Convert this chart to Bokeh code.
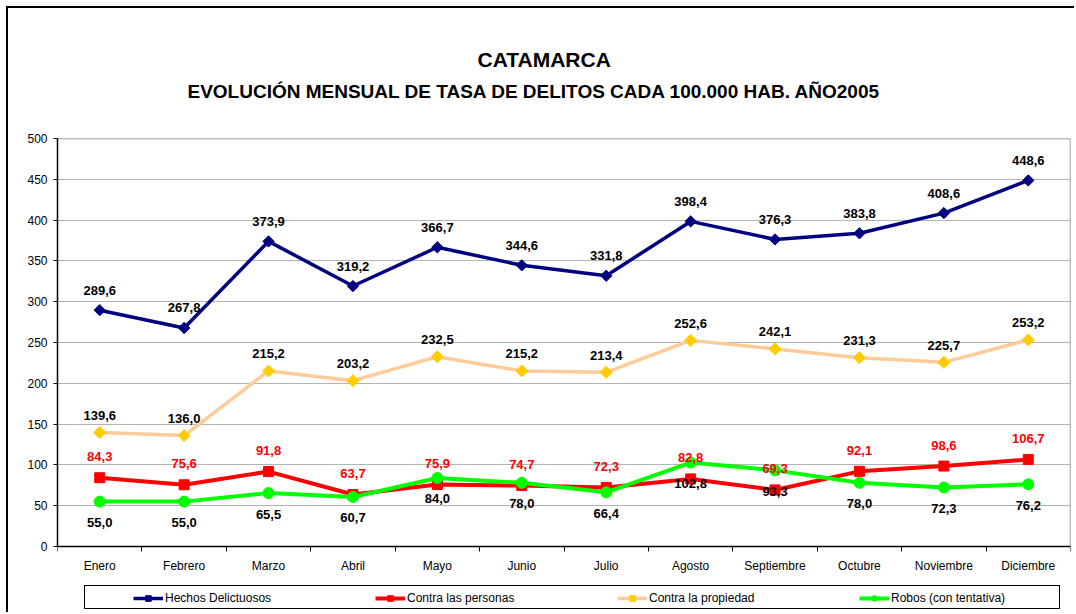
import math
from bokeh.plotting import figure
from bokeh.models import (Range1d, FixedTicker, Legend, LegendItem, Title,
                          ColumnDataSource)
from bokeh.embed import file_html
from bokeh.resources import INLINE
from bokeh.core.properties import value

# ---------------- data ----------------
months = ["Enero", "Febrero", "Marzo", "Abril", "Mayo", "Junio", "Julio",
          "Agosto", "Septiembre", "Octubre", "Noviembre", "Diciembre"]
hechos = [289.6, 267.8, 373.9, 319.2, 366.7, 344.6, 331.8, 398.4, 376.3, 383.8, 408.6, 448.6]
personas = [84.3, 75.6, 91.8, 63.7, 75.9, 74.7, 72.3, 82.8, 69.3, 92.1, 98.6, 106.7]
propiedad = [139.6, 136.0, 215.2, 203.2, 232.5, 215.2, 213.4, 252.6, 242.1, 231.3, 225.7, 253.2]
robos = [55.0, 55.0, 65.5, 60.7, 84.0, 78.0, 66.4, 102.8, 93.3, 78.0, 72.3, 76.2]
y_ticks = [0, 50, 100, 150, 200, 250, 300, 350, 400, 450, 500]
series_names = ["Hechos Delictuosos", "Contra las personas", "Contra la propiedad",
                "Robos (con tentativa)"]
title_text = "CATAMARCA"
subtitle_text = "EVOLUCIÓN MENSUAL DE TASA DE DELITOS CADA 100.000 HAB. AÑO2005"

FONT = "Liberation Sans"

x = [i + 0.5 for i in range(len(months))]


def fmt(v):
    return f"{v:.1f}".replace(".", ",")


# layout (pixels): plot area 408 px tall for 0..500, 68 px of room below it
W, H = 1068, 606
TOP, LEFT, RIGHT = 130, 49, 6
AREA_H = 408
BELOW = H - TOP - AREA_H
y_lo = y_ticks[0] - BELOW * (y_ticks[-1] - y_ticks[0]) / AREA_H
n = len(months)

p = figure(width=W, height=H, output_backend="svg", toolbar_location=None,
           title=None,
           x_range=Range1d(0, n), y_range=Range1d(y_lo, y_ticks[-1]),
           min_border_left=LEFT, min_border_right=RIGHT, min_border_top=TOP,
           min_border_bottom=0)
p.styles = {"margin-left": "6px", "margin-top": "6px",
            "border-left": "2px solid black", "border-top": "2px solid black"}
p.background_fill_color = "white"
p.border_fill_color = "white"
p.outline_line_color = None

# axes
xa = p.xaxis[0]
xa.fixed_location = y_ticks[0]
xa.ticker = FixedTicker(ticks=x, minor_ticks=list(range(n + 1)))
xa.major_label_overrides = {xi: m for xi, m in zip(x, months)}
xa.major_tick_out = 0
xa.major_tick_in = 0
xa.minor_tick_out = 5
xa.minor_tick_in = 0
xa.minor_tick_line_color = "black"
xa.axis_line_color = "black"
xa.axis_line_width = 1.5
xa.major_label_standoff = 7
xa.major_label_text_font = FONT
xa.major_label_text_font_size = "12px"
xa.major_label_text_color = "black"

ya = p.yaxis[0]
ya.bounds = (y_ticks[0], y_ticks[-1])
ya.ticker = FixedTicker(ticks=y_ticks)
ya.major_tick_out = 4
ya.major_tick_in = 0
ya.minor_tick_out = 0
ya.minor_tick_in = 0
ya.major_tick_line_color = "black"
ya.axis_line_color = "black"
ya.axis_line_width = 1.5
ya.major_label_standoff = 6
ya.major_label_text_font = FONT
ya.major_label_text_font_size = "12px"
ya.major_label_text_color = "black"

p.xgrid.visible = False
p.ygrid.ticker = FixedTicker(ticks=y_ticks[1:-1])
p.ygrid.grid_line_color = "#B4B4B4"
p.ygrid.grid_line_width = 1

# plot-area border (top and right, grey)
p.segment(x0=[0, n], y0=[y_ticks[-1], y_ticks[0]], x1=[n, n],
          y1=[y_ticks[-1], y_ticks[-1]], line_color="#808080", line_width=1.5)

# series
r_h_l = p.line(x, hechos, line_color="#000080", line_width=3.5)
r_h_m = p.scatter(x, hechos, marker="square", angle=math.pi / 4, size=8,
                  fill_color="#000080", line_color="#000080")
r_p_l = p.line(x, personas, line_color="#FF0000", line_width=4)
r_p_m = p.scatter(x, personas, marker="square", size=10,
                  fill_color="#FF0000", line_color="#FF0000")
r_o_l = p.line(x, propiedad, line_color="#FFCC99", line_width=3.5)
r_o_m = p.scatter(x, propiedad, marker="square", angle=math.pi / 4, size=8.5,
                  fill_color="#FFCC00", line_color="#FFCC00")
r_r_l = p.line(x, robos, line_color="#00FF00", line_width=4)
r_r_m = p.scatter(x, robos, marker="circle", size=11,
                  fill_color="#00FF00", line_color="#00FF00")


# data labels
def add_labels(vals, color, yoff):
    src = ColumnDataSource(dict(x=x, y=vals, t=[fmt(v) for v in vals]))
    p.text("x", "y", text="t", source=src, text_font=value(FONT),
           text_font_size="13px", text_font_style="bold", text_color=color,
           text_align="center", text_baseline="middle", y_offset=yoff)


add_labels(hechos, "black", -20)
add_labels(propiedad, "black", -17)
add_labels(personas, "#FF0000", -21)
add_labels(robos, "black", 21)

# legend box (legend with invisible items)
dummy = p.line([], [], line_alpha=0)
box = Legend(items=[LegendItem(label=" ", renderers=[dummy]),
                    LegendItem(label="  ", renderers=[dummy])],
             orientation="horizontal", location=(27, 5))
box.padding = 0
box.margin = 0
box.spacing = 0
box.glyph_width = 1
box.glyph_height = 22
box.label_height = 22
box.label_standoff = 0
box.label_width = 486
box.label_text_alpha = 0
box.border_line_color = "black"
box.border_line_width = 1
box.border_line_alpha = 1
box.background_fill_color = "white"
box.background_fill_alpha = 1
box.label_text_font_size = "12px"
p.add_layout(box)

legend = Legend(items=[
    LegendItem(label=series_names[0], renderers=[r_h_l, r_h_m]),
    LegendItem(label=series_names[1], renderers=[r_p_l, r_p_m]),
    LegendItem(label=series_names[2], renderers=[r_o_l, r_o_m]),
    LegendItem(label=series_names[3], renderers=[r_r_l, r_r_m]),
], orientation="horizontal", location=(76, 9))
legend.padding = 0
legend.margin = 0
legend.spacing = 90
legend.label_width = 120
legend.label_height = 14
legend.glyph_width = 30
legend.glyph_height = 14
legend.label_standoff = 2
legend.border_line_alpha = 0
legend.background_fill_alpha = 0
legend.label_text_font = FONT
legend.label_text_font_size = "12px"
legend.label_text_color = "black"
p.add_layout(legend)

# titles (first added is nearest to the plot)
p.add_layout(Title(text=subtitle_text, align="left", offset=130, standoff=74,
                   text_font=FONT, text_font_size="19px", text_font_style="bold",
                   text_color="black"), "above")
p.add_layout(Title(text=title_text, align="left", offset=420, standoff=-58,
                   text_font=FONT, text_font_size="21px", text_font_style="bold",
                   text_color="black"), "above")

open("out.html", "w").write(file_html(p, INLINE))
